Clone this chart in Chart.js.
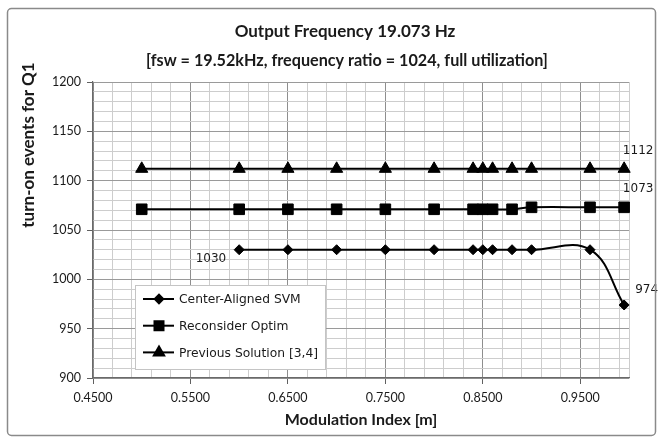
<!DOCTYPE html>
<html><head><meta charset="utf-8">
<script src="https://cdn.jsdelivr.net/npm/chart.js@4/dist/chart.umd.min.js"></script>
<style>html,body{margin:0;padding:0;background:#fff;}#wrap{width:661px;height:439px;position:relative;}</style>
</head><body><div id="wrap"><canvas id="c" width="661" height="439"></canvas></div>
<script>
// ---------- data ----------
const titleLines = ['Output Frequency 19.073 Hz', '[fsw = 19.52kHz, frequency ratio = 1024, full utilization]'];
const xAxisTitle = 'Modulation Index [m]';
const yAxisTitle = 'turn-on events for Q1';
const seriesNames = ['Center-Aligned SVM', 'Reconsider Optim', 'Previous Solution [3,4]'];

const svmIndex   = [0.60, 0.65, 0.70, 0.75, 0.80, 0.84, 0.85, 0.86, 0.88, 0.90, 0.96, 0.995];
const svmEvents  = [1030, 1030, 1030, 1030, 1030, 1030, 1030, 1030, 1030, 1030, 1030, 974];

const optimIndex  = [0.50, 0.60, 0.65, 0.70, 0.75, 0.80, 0.84, 0.85, 0.86, 0.88, 0.90, 0.96, 0.995];
const optimEvents = [1071, 1071, 1071, 1071, 1071, 1071, 1071, 1071, 1071, 1071, 1073, 1073, 1073];

const prevIndex  = [0.50, 0.60, 0.65, 0.70, 0.75, 0.80, 0.84, 0.85, 0.86, 0.88, 0.90, 0.96, 0.995];
const prevEvents = [1112, 1112, 1112, 1112, 1112, 1112, 1112, 1112, 1112, 1112, 1112, 1112, 1112];

const xTickLabels = ['0.4500', '0.5500', '0.6500', '0.7500', '0.8500', '0.9500'];
const yTickLabels = ['900', '950', '1000', '1050', '1100', '1150', '1200'];

// value labels shown next to points: [series, point index, text]
const valueLabels = [
  [0, 0, '1030'],
  [0, 11, '974'],
  [1, 12, '1073'],
  [2, 12, '1112']
];

// ---------- scale settings ----------
const X_MIN = 0.45, X_MAX = 1.0, X_MAJOR = 0.1, X_MINOR = 0.02;
const Y_MIN = 900, Y_MAX = 1200, Y_MAJOR = 50, Y_MINOR = 10;

const xGridValues = [];
for (let i = 0; X_MIN + i * X_MINOR < X_MAX - 1e-9; i++) xGridValues.push(+(X_MIN + i * X_MINOR).toFixed(4));
xGridValues.push(X_MAX);

function isXMajor(v) { const k = (v - X_MIN) / X_MAJOR; return Math.abs(k - Math.round(k)) < 1e-6; }
function isYMajor(v) { const k = (v - Y_MIN) / Y_MAJOR; return Math.abs(k - Math.round(k)) < 1e-6; }

const toPts = (xs, ys) => xs.map((x, i) => ({ x: x, y: ys[i] }));

const styles = [
  { pointStyle: 'rectRot', radius: 5 },
  { pointStyle: 'rect', radius: 7.5 },
  { pointStyle: 'triangle', radius: 7 }
];

const seriesData = [toPts(svmIndex, svmEvents), toPts(optimIndex, optimEvents), toPts(prevIndex, prevEvents)];

const datasets = seriesData.map((d, i) => ({
  label: seriesNames[i],
  data: d,
  borderColor: '#000',
  backgroundColor: '#000',
  borderWidth: 2,
  pointStyle: styles[i].pointStyle,
  pointRadius: styles[i].radius,
  pointBackgroundColor: '#000',
  pointBorderColor: '#000',
  pointBorderWidth: 1,
  tension: 0.4,
  clip: 20
}));

const TXT = '#1a1a1a';
const tickFont = { family: 'Lato', size: 12.5 };

const decor = {
  id: 'decor',
  beforeDraw(chart) {
    const ctx = chart.ctx;
    ctx.save();
    ctx.fillStyle = '#fff';
    ctx.fillRect(0, 0, chart.width, chart.height);
    ctx.restore();
  },
  afterDatasetsDraw(chart) {
    const ctx = chart.ctx;
    const ca = chart.chartArea;
    ctx.save();
    // value labels
    ctx.font = '12px "DejaVu Sans"';
    ctx.fillStyle = TXT;
    ctx.textBaseline = 'middle';
    valueLabels.forEach(([s, idx, text]) => {
      const p = chart.getDatasetMeta(s).data[idx];
      if (!p) return;
      if (s === 0 && idx === 0) { ctx.textAlign = 'right'; ctx.fillText(text, p.x - 13, p.y + 9); }
      else if (s === 0) { ctx.textAlign = 'left'; ctx.fillText(text, p.x + 11, p.y - 15); }
      else { ctx.textAlign = 'center'; ctx.fillText(text, p.x + 14, p.y - 18); }
    });
    // legend box
    const lx = ca.left + 42, ly = ca.top + 203, lw = 190, lh = 84;
    ctx.fillStyle = '#fff';
    ctx.fillRect(lx, ly, lw, lh);
    ctx.strokeStyle = '#c4c4c4';
    ctx.lineWidth = 1;
    ctx.strokeRect(lx + 0.5, ly + 0.5, lw, lh);
    ctx.font = '12.3px "DejaVu Sans"';
    ctx.textAlign = 'left';
    ctx.fillStyle = TXT;
    seriesNames.forEach((name, i) => {
      const y = ly + 14 + i * 26.7;
      ctx.strokeStyle = '#000';
      ctx.lineWidth = 2;
      ctx.beginPath(); ctx.moveTo(lx + 8, y); ctx.lineTo(lx + 39, y); ctx.stroke();
      ctx.fillStyle = '#000';
      Chart.helpers.drawPoint(ctx, { pointStyle: styles[i].pointStyle, rotation: 0, radius: styles[i].radius * 0.85, borderWidth: 1 }, lx + 24, y);
      ctx.fillStyle = TXT;
      ctx.fillText(name, lx + 44, y + 1);
    });
    ctx.restore();
  },
  afterDraw(chart) {
    const ctx = chart.ctx;
    const ca = chart.chartArea;
    ctx.save();
    // outer frame
    ctx.strokeStyle = '#8a8a8a';
    ctx.lineWidth = 1.5;
    ctx.beginPath();
    if (ctx.roundRect) ctx.roundRect(7.5, 8.5, 648, 427, 4); else ctx.rect(7.5, 8.5, 648, 427);
    ctx.stroke();
    // title
    ctx.fillStyle = TXT;
    ctx.textAlign = 'center';
    ctx.textBaseline = 'middle';
    ctx.font = 'bold 17px Lato';
    ctx.fillText(titleLines[0], 345, 32);
    ctx.font = 'bold 16.2px Lato';
    ctx.fillText(titleLines[1], 347, 61);
    // x axis title
    ctx.font = 'bold 16px Lato';
    ctx.fillText(xAxisTitle, (ca.left + ca.right) / 2, 420);
    // y axis title
    ctx.font = 'bold 17px Lato';
    ctx.translate(29, 145);
    ctx.rotate(-Math.PI / 2);
    ctx.fillText(yAxisTitle, 0, 0);
    ctx.restore();
  }
};

new Chart(document.getElementById('c'), {
  type: 'line',
  data: { datasets: datasets },
  plugins: [decor],
  options: {
    responsive: false,
    animation: false,
    devicePixelRatio: 1,
    layout: { padding: { top: 82, right: 32, bottom: 0, left: 0 } },
    plugins: { legend: { display: false }, title: { display: false }, tooltip: { enabled: false } },
    scales: {
      x: {
        type: 'linear',
        min: X_MIN, max: X_MAX,
        afterBuildTicks: (sc) => { sc.ticks = xGridValues.map(v => ({ value: v })); },
        afterFit: (sc) => { sc.height = 61; },
        ticks: {
          autoSkip: false, maxRotation: 0, minRotation: 0,
          padding: 6,
          color: TXT,
          font: tickFont,
          callback: (v) => {
            if (!isXMajor(v)) return '';
            const k = Math.round((v - X_MIN) / X_MAJOR);
            return xTickLabels[k] !== undefined ? xTickLabels[k] : '';
          }
        },
        grid: {
          color: (c) => (c.tick && isXMajor(c.tick.value)) ? '#8e8e8e' : '#cdcdcd',
          tickColor: (c) => (c.tick && isXMajor(c.tick.value) && c.tick.value < X_MAX - 1e-9) ? '#606060' : 'rgba(0,0,0,0)',
          tickLength: 6,
          lineWidth: 1
        },
        border: { color: '#6a6a6a', width: 1.2 }
      },
      y: {
        type: 'linear',
        min: Y_MIN, max: Y_MAX,
        afterFit: (sc) => { sc.width = 93; },
        ticks: {
          stepSize: Y_MINOR,
          autoSkip: false,
          padding: 6,
          color: TXT,
          font: tickFont,
          callback: (v) => {
            if (!isYMajor(v)) return '';
            const k = Math.round((v - Y_MIN) / Y_MAJOR);
            return yTickLabels[k] !== undefined ? yTickLabels[k] : '';
          }
        },
        grid: {
          color: (c) => (c.tick && isYMajor(c.tick.value)) ? '#9a9a9a' : '#cdcdcd',
          tickColor: (c) => (c.tick && isYMajor(c.tick.value)) ? '#606060' : 'rgba(0,0,0,0)',
          tickLength: 6,
          lineWidth: 1
        },
        border: { color: '#6a6a6a', width: 1.2 }
      }
    }
  }
});
</script></body></html>
